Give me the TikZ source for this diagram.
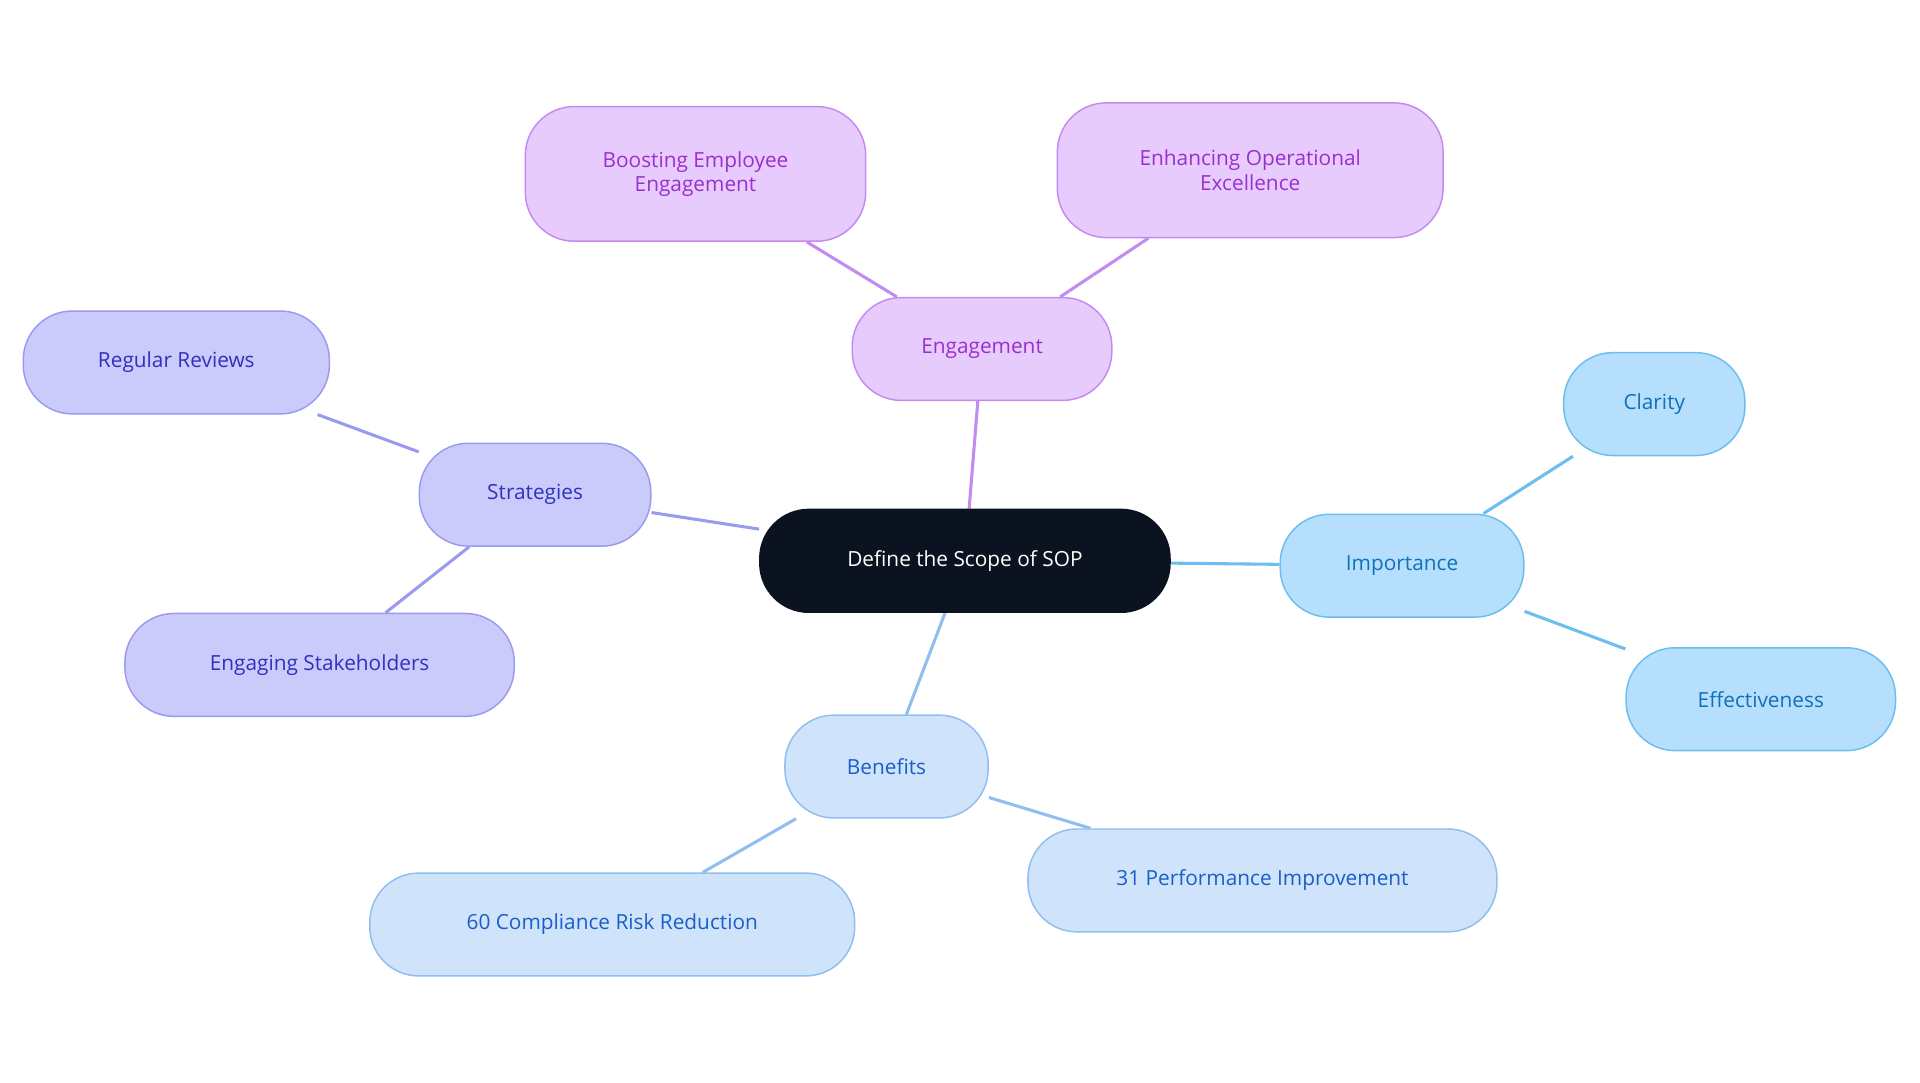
\documentclass[tikz,border=0pt]{standalone}
\usepackage{fontspec}
\setmainfont{Open Sans}
\usetikzlibrary{backgrounds}
\definecolor{pF}{HTML}{E8CBFD}\definecolor{pB}{HTML}{C58AF0}\definecolor{pT}{HTML}{9A2FD0}
\definecolor{vF}{HTML}{CBCBFB}\definecolor{vB}{HTML}{9A9AEE}\definecolor{vT}{HTML}{3030C0}
\definecolor{bF}{HTML}{B5DFFC}\definecolor{bB}{HTML}{6BBEEE}\definecolor{bT}{HTML}{1070B8}
\definecolor{lF}{HTML}{CFE3FA}\definecolor{lB}{HTML}{90BEEE}\definecolor{lT}{HTML}{1A5FC8}
\definecolor{dk}{HTML}{0B1320}
\begin{document}
\begin{tikzpicture}[x=1pt,y=-1pt,
 box/.style={rounded corners=40pt,line width=1.2pt,align=center,inner sep=0pt,font=\fontsize{17}{20}\selectfont},
 nd/.style n args={4}{box,draw=#2,fill=#1,text=#3,minimum width=#4,minimum height=84pt},
 P/.style={nd={pF}{pB}{pT}{#1}}, V/.style={nd={vF}{vB}{vT}{#1}},
 B/.style={nd={bF}{bB}{bT}{#1}}, L/.style={nd={lF}{lB}{lT}{#1}},
 ed/.style={line width=2.5pt,draw=#1}]
\useasboundingbox (0,0) rectangle (1568,884);
\node[box,fill=dk,draw=dk,text=white,minimum width=335pt,minimum height=84pt] (c) at (788,458) {Define the Scope of SOP};
\node[P=212pt] (eng) at (802,285) {Engagement};
\node[P=278pt,minimum height=110pt] (boo) at (568,142) {Boosting Employee\\Engagement};
\node[P=315pt,minimum height=110pt] (enh) at (1021,139) {Enhancing Operational\\Excellence};
\node[V=189pt] (str) at (437,404) {Strategies};
\node[V=250pt] (reg) at (144,296) {Regular Reviews};
\node[V=318pt] (stk) at (261,543) {Engaging Stakeholders};
\node[B=199pt] (imp) at (1145,462) {Importance};
\node[B=148pt] (cla) at (1351,330) {Clarity};
\node[B=220pt] (eff) at (1438,571) {Effectiveness};
\node[L=166pt] (ben) at (724,626) {Benefits};
\node[L=396pt] (com) at (500,755) {60 Compliance Risk Reduction};
\node[L=383pt] (per) at (1031,719) {31 Performance Improvement};
\begin{scope}[on background layer]
\draw[ed=pB] (c)--(eng); \draw[ed=pB] (eng)--(boo); \draw[ed=pB] (eng)--(enh);
\draw[ed=vB] (c)--(str); \draw[ed=vB] (str)--(reg); \draw[ed=vB] (str)--(stk);
\draw[ed=bB] (c)--(imp); \draw[ed=bB] (imp)--(cla); \draw[ed=bB] (imp)--(eff);
\draw[ed=lB] (c)--(ben); \draw[ed=lB] (ben)--(com); \draw[ed=lB] (ben)--(per);
\end{scope}
\end{tikzpicture}
\end{document}
